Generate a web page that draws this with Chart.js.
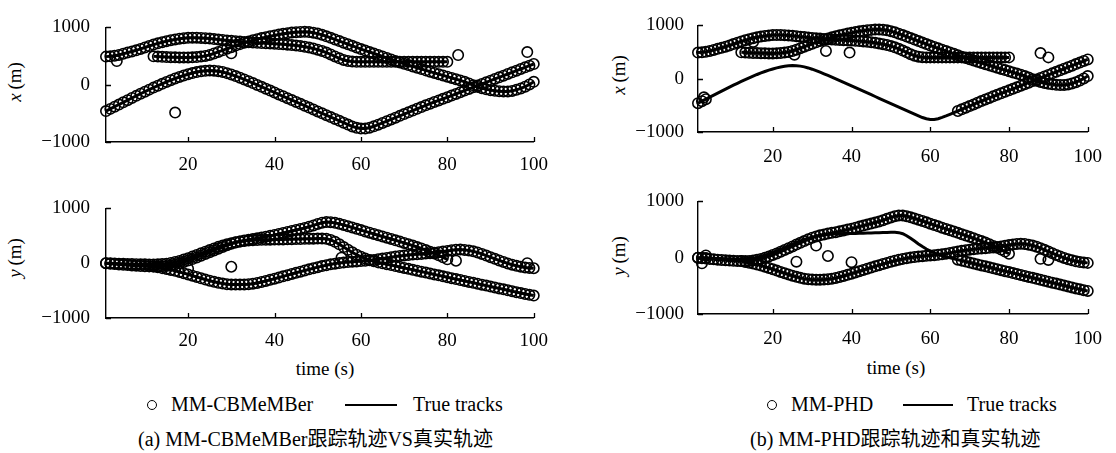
<!DOCTYPE html>
<html>
<head>
<meta charset="utf-8">
<script src="https://cdn.jsdelivr.net/npm/chart.js@4.4.1/dist/chart.umd.min.js"></script>
<style>
  body { margin: 0; background: #fff; }
  #page { position: relative; width: 1116px; height: 453px; overflow: hidden; background: #fff;
          font-family: "Liberation Serif", "Noto Sans CJK SC", serif; color: #000; }
  canvas { position: absolute; }
  .ytitle { position: absolute; font-size: 19px; white-space: nowrap; transform: translate(-50%, -50%) rotate(-90deg); }
  .xtitle { position: absolute; font-size: 19px; white-space: nowrap; transform: translate(-50%, -50%); }
  .legend { position: absolute; font-size: 20px; white-space: nowrap; transform: translateY(-50%); }
  .dot { position: absolute; width: 8px; height: 8px; border: 1.4px solid #000; border-radius: 50%; transform: translate(-50%, -50%); }
  .dash { position: absolute; height: 1.6px; background: #000; }
  .caption { position: absolute; font-size: 20px; white-space: nowrap; transform: translateY(-50%); }
</style>
</head>
<body>
<div id="page">
  <canvas id="ax-a" width="530" height="176" style="left:30px;top:0px"></canvas>
  <canvas id="ay-a" width="530" height="171" style="left:30px;top:181px"></canvas>
  <canvas id="ax-b" width="486" height="166" style="left:630px;top:0px"></canvas>
  <canvas id="ay-b" width="486" height="172" style="left:630px;top:176px"></canvas>

  <div class="ytitle" style="left:15px;top:82px"><i>x</i>&thinsp;(m)</div>
  <div class="ytitle" style="left:15px;top:258px"><i>y</i>&thinsp;(m)</div>
  <div class="ytitle" style="left:619px;top:75px"><i>x</i>&thinsp;(m)</div>
  <div class="ytitle" style="left:619px;top:256px"><i>y</i>&thinsp;(m)</div>

  <div class="xtitle" style="left:325px;top:369px">time (s)</div>
  <div class="xtitle" style="left:896px;top:368px">time (s)</div>

  <div class="dot" style="left:152px;top:405px"></div>
  <div class="legend" style="left:171px;top:404px">MM-CBMeMBer</div>
  <div class="dash" style="left:345px;top:404px;width:52px"></div>
  <div class="legend" style="left:413px;top:404px">True tracks</div>

  <div class="dot" style="left:772px;top:405px"></div>
  <div class="legend" style="left:791px;top:404px">MM-PHD</div>
  <div class="dash" style="left:903px;top:404px;width:50px"></div>
  <div class="legend" style="left:967px;top:404px">True tracks</div>

  <div class="caption" style="left:138px;top:437px">(a) MM-CBMeMBer跟踪轨迹VS真实轨迹</div>
  <div class="caption" style="left:750px;top:437px">(b) MM-PHD跟踪轨迹和真实轨迹</div>
</div>

<script>
// ---- data ----
const xTicks = [20, 40, 60, 80, 100];
const yTicks = [-1000, 0, 1000];

// track 1: t = 1..80
const track1Start = 1;
const track1X = [
  490, 495, 505, 520, 540, 560, 580, 600, 625, 650,
  675, 700, 722, 742, 760, 776, 790, 802, 812, 818,
  820, 820, 817, 812, 805, 797, 789, 781, 773, 765,
  758, 752, 746, 741, 736, 731, 727, 723, 719, 715,
  710, 705, 699, 692, 684, 674, 662, 648, 632, 612,
  588, 560, 528, 494, 460, 432, 414, 404, 400, 400,
  400, 400, 400, 400, 400, 400, 400, 400, 400, 400,
  400, 400, 400, 400, 400, 400, 400, 400, 400, 400
];
const track1Y = [
  0, -8, -15, -22, -29, -35, -41, -46, -51, -55,
  -58, -60, -60, -57, -50, -38, -22, -2, 22, 48,
  76, 106, 137, 169, 201, 233, 265, 296, 326, 354,
  378, 398, 414, 428, 441, 454, 468, 483, 499, 516,
  534, 552, 570, 588, 606, 624, 643, 665, 690, 716,
  738, 750, 748, 736, 718, 698, 676, 652, 628, 604,
  580, 557, 534, 511, 488, 465, 442, 418, 394, 370,
  346, 321, 295, 268, 240, 210, 178, 144, 108, 70
];

// track 2: t = 12..100
const track2Start = 12;
const track2X = [
  495, 490, 486, 482, 480, 478, 476, 475, 475,
  477, 482, 490, 502, 520, 545, 572, 600, 628, 655,
  682, 708, 732, 755, 776, 795, 813, 830, 846, 860,
  875, 888, 899, 909, 916, 921, 922, 918, 908, 892,
  870, 845, 818, 790, 762, 734, 706, 678, 650, 622,
  596, 570, 544, 518, 492, 466, 440, 414, 389, 365,
  342, 319, 296, 273, 250, 228, 206, 184, 162, 140,
  118, 97, 75, 50, 22, -10, -38, -60, -80, -95,
  -106, -114, -118, -117, -108, -90, -65, -35, 5, 50
];
const track2Y = [
  -60, -75, -90, -105, -122, -140, -160, -182, -205,
  -228, -252, -275, -298, -320, -340, -358, -372, -382, -388,
  -390, -390, -388, -383, -374, -360, -343, -324, -304, -283,
  -262, -240, -218, -196, -175, -154, -133, -112, -92, -72,
  -53, -36, -21, -8, 3, 12, 20, 27, 33, 39,
  45, 52, 60, 72, 84, 97, 110, 122, 133, 142,
  150, 157, 163, 169, 175, 182, 190, 200, 212, 224,
  236, 245, 248, 243, 232, 216, 196, 170, 140, 110,
  80, 50, 22, -4, -27, -47, -64, -77, -86, -92
];

// track 3: t = 1..100
const track3Start = 1;
const track3X = [
  -460, -422, -384, -346, -308, -270, -232, -195, -158, -122,
  -86, -51, -17, 16, 48, 79, 108, 135, 160, 183,
  203, 220, 233, 242, 246, 244, 236, 222, 202, 178,
  151, 122, 92, 61, 29, -4, -37, -70, -103, -136,
  -169, -202, -235, -268, -301, -334, -367, -400, -433, -466,
  -499, -532, -565, -598, -631, -664, -696, -728, -752, -766,
  -765, -750, -726, -698, -668, -637, -606, -575, -544, -513,
  -482, -451, -420, -390, -360, -331, -302, -274, -246, -219,
  -190, -161, -132, -103, -74, -45, -16, 13, 42, 71,
  100, 129, 158, 187, 216, 245, 274, 303, 332, 361
];
const track3Y = [
  0, -3, -6, -9, -12, -14, -16, -18, -20, -21,
  -22, -22, -20, -16, -8, 5, 22, 42, 66, 92,
  120, 150, 180, 210, 240, 270, 298, 324, 347, 366,
  382, 395, 405, 413, 419, 423, 426, 428, 430, 431,
  432, 434, 436, 438, 440, 442, 444, 446, 448, 450,
  450, 445, 425, 390, 345, 295, 245, 198, 155, 118,
  85, 58, 35, 15, -2, -18, -35, -52, -69, -86,
  -103, -120, -137, -154, -171, -188, -205, -222, -239, -256,
  -273, -290, -307, -324, -341, -358, -375, -392, -409, -426,
  -443, -460, -477, -494, -511, -528, -545, -562, -577, -590
];

// stray estimates (clutter / false alarms)
const cbOutXTime = [3.5, 17, 30, 82.5, 98.5];
const cbOutX = [413, -487, 547, 518, 570];
const cbOutYTime = [20, 30, 55.5, 82, 98.5];
const cbOutY = [-100, -65, 100, 45, 0];
const phdOutXTime = [2.5, 15, 25.5, 33.5, 39.5, 88, 90];
const phdOutX = [-350, 690, 450, 520, 490, 480, 400];
const phdOutYTime = [2, 3, 26, 31, 34, 40, 88, 90];
const phdOutY = [-100, 40, -70, 215, 30, -80, -20, -40];

// MM-PHD loses track 3 between these times
const phdLostTrack3 = [4, 66];

// ---- helpers ----
const FONT = '"Liberation Serif", serif';

function toPoints(start, values) {
  return values.map((v, i) => ({ x: start + i, y: v }));
}
function pairPoints(times, values) {
  return times.map((t, i) => ({ x: t, y: values[i] }));
}
function minusSign(v) {
  return String(v).replace('-', '\u2212');
}

// tick marks point into the plot, as in the paper figure
const inwardTicks = {
  id: 'inwardTicks',
  afterDatasetsDraw(chart) {
    const { ctx, chartArea, scales } = chart;
    ctx.save();
    ctx.strokeStyle = '#000';
    ctx.lineWidth = 1.3;
    ctx.beginPath();
    scales.x.ticks.forEach(tk => {
      const px = Math.round(scales.x.getPixelForValue(tk.value)) + 0.5;
      ctx.moveTo(px, chartArea.bottom);
      ctx.lineTo(px, chartArea.bottom - 5);
    });
    scales.y.ticks.forEach(tk => {
      const py = Math.round(scales.y.getPixelForValue(tk.value)) + 0.5;
      ctx.moveTo(chartArea.left, py);
      ctx.lineTo(chartArea.left + 5, py);
    });
    ctx.stroke();
    ctx.restore();
  }
};

function makePanel(id, opts) {
  const truthSets = opts.truths.map(pts => ({
    type: 'line',
    data: pts,
    borderColor: '#000',
    borderWidth: 3,
    pointRadius: 0,
    tension: 0,
    fill: false,
    clip: false
  }));
  const estSet = {
    type: 'scatter',
    data: opts.estimates,
    pointStyle: 'circle',
    pointRadius: 5.2,
    pointBorderWidth: 1.6,
    pointBorderColor: '#000',
    pointBackgroundColor: 'rgba(255,255,255,0)',
    clip: false
  };
  return new Chart(document.getElementById(id), {
    type: 'scatter',
    data: { datasets: [...truthSets, estSet] },
    plugins: [inwardTicks],
    options: {
      responsive: false,
      animation: false,
      layout: { padding: { left: 0, right: opts.padRight, top: opts.padTop, bottom: 0 } },
      plugins: { legend: { display: false }, tooltip: { enabled: false } },
      scales: {
        x: {
          type: 'linear',
          min: 1,
          max: 100,
          afterBuildTicks: s => { s.ticks = xTicks.map(v => ({ value: v })); },
          afterFit: s => { s.height = 34; },
          grid: { display: true, drawOnChartArea: false, drawTicks: false },
          border: { display: true, color: '#000', width: 1.4 },
          ticks: { color: '#000', padding: opts.xPad, maxRotation: 0, font: { family: FONT, size: 19 }, callback: v => String(v) }
        },
        y: {
          type: 'linear',
          min: -1000,
          max: 1000,
          afterBuildTicks: s => { s.ticks = yTicks.map(v => ({ value: v })); },
          afterFit: s => { s.width = opts.yWidth; },
          grid: { display: true, drawOnChartArea: false, drawTicks: false },
          border: { display: true, color: '#000', width: 1.4 },
          ticks: { color: '#000', padding: opts.yPad, font: { family: FONT, size: 19 }, callback: v => minusSign(v) }
        }
      }
    }
  });
}

// ---- build series ----
const t1x = toPoints(track1Start, track1X), t1y = toPoints(track1Start, track1Y);
const t2x = toPoints(track2Start, track2X), t2y = toPoints(track2Start, track2Y);
const t3x = toPoints(track3Start, track3X), t3y = toPoints(track3Start, track3Y);

const keptByPhd = p => p.x < phdLostTrack3[0] || p.x > phdLostTrack3[1];

// (a) MM-CBMeMBer
makePanel('ax-a', {
  truths: [t1x, t2x, t3x],
  estimates: [...t1x, ...t2x, ...t3x, ...pairPoints(cbOutXTime, cbOutX)],
  yWidth: 76, padRight: 15, padTop: 18, xPad: 12, yPad: 16
});
makePanel('ay-a', {
  truths: [t1y, t2y, t3y],
  estimates: [...t1y, ...t2y, ...t3y, ...pairPoints(cbOutYTime, cbOutY)],
  yWidth: 76, padRight: 15, padTop: 18, xPad: 12, yPad: 16
});

// (b) MM-PHD
makePanel('ax-b', {
  truths: [t1x, t2x, t3x],
  estimates: [...t1x, ...t2x, ...t3x.filter(keptByPhd), ...pairPoints(phdOutXTime, phdOutX)],
  yWidth: 68, padRight: 19, padTop: 19, xPad: 14, yPad: 14
});
makePanel('ay-b', {
  truths: [t1y, t2y, t3y],
  estimates: [...t1y, ...t2y, ...t3y.filter(keptByPhd), ...pairPoints(phdOutYTime, phdOutY)],
  yWidth: 68, padRight: 19, padTop: 19, xPad: 14, yPad: 14
});
</script>
</body>
</html>
